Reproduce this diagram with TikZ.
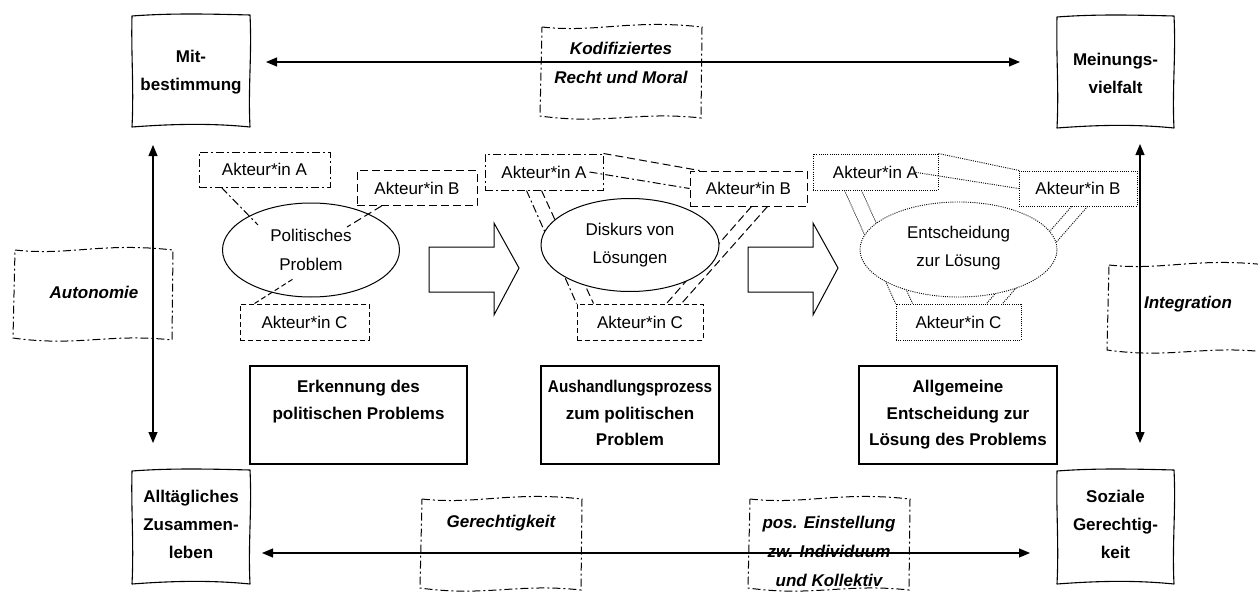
\documentclass[tikz,border=0pt]{standalone}
\usepackage{fontspec}
\setmainfont{Liberation Sans}
\usetikzlibrary{arrows.meta,shapes.geometric,calc}
\newcommand\skbox[4]{%
 \draw[skline] (#1,#2+1) .. controls (#1+40,#2-2) and (#3-40,#2-1) .. (#3,#2)
   .. controls (#3+2,#2+40) and (#3-2,#4-40) .. (#3,#4)
   .. controls (#3-40,#4-4) and (#1+40,#4-3) .. (#1,#4)
   .. controls (#1+2,#4-40) and (#1-1,#2+40) .. cycle;}
\newcommand\wvbox[4]{%
 \draw[wvline] (#1+2,#2+2) .. controls (#1+0.35*#3-0.35*#1,#2+8) and (#1+0.55*#3-0.55*#1,#2-6) .. (#3,#2+2)
  -- (#3-1,#4)
  .. controls (#1+0.6*#3-0.6*#1,#4-7) and (#1+0.4*#3-0.4*#1,#4+7) .. (#1,#4-2) -- cycle;}
\tikzset{
 tx/.style={font=\fontsize{17}{28.5}\selectfont, align=center},
 bt/.style={font=\bfseries\fontsize{17}{28}\selectfont, align=center},
 dt/.style={font=\bfseries\fontsize{17}{26.5}\selectfont, align=center},
 it/.style={font=\bfseries\itshape\fontsize{17}{29}\selectfont, align=center},
 skline/.style={line width=1.1pt, line join=round},
 wvline/.style={line width=1pt, dash pattern=on 8pt off 3pt on 2pt off 3pt},
 dA/.style={line width=1pt, dash pattern=on 8pt off 3pt on 2pt off 3pt},
 dB/.style={line width=1pt, dash pattern=on 8pt off 4pt},
 dC/.style={line width=1pt, dash pattern=on 5pt off 3pt},
 dD/.style={line width=0.9pt, dash pattern=on 1pt off 1.2pt},
 actor/.style={tx, draw, inner sep=0pt, minimum width=#1, minimum height=35},
 blob/.style={tx, ellipse, draw, fill=white, inner sep=0pt, line width=1pt},
 desc/.style={draw, line width=1.2pt, inner sep=0pt},
 dbl/.style={line width=1.1pt, {Triangle[length=11pt,width=9pt]}-{Triangle[length=11pt,width=9pt]}},
 blk/.style={line width=1pt, line join=miter},
}
\begin{document}
\begin{tikzpicture}[x=1pt,y=-1pt]
\useasboundingbox (0,0) rectangle (1258,594);
% corner boxes
\skbox{132}{15}{250}{127}
\node[bt] (mit) at (191,72) {Mit-\\bestimmung};
\skbox{1057}{16}{1174}{128}
\node[bt] (mei) at (1115.5,73) {Meinungs-\\vielfalt};
\skbox{132}{470}{250}{584}
\node[bt] (all) at (191,524) {Alltägliches\\Zusammen-\\leben};
\skbox{1057}{470}{1174}{584}
\node[bt] (soz) at (1115.5,524) {Soziale\\Gerechtig-\\keit};
% value boxes
\wvbox{540}{25}{702}{118}
\node[it] (kod) at (621,62.5) {Kodifiziertes\\Recht und Moral};
\wvbox{13}{248}{173}{340}
\node[it] (aut) at (94,292) {Autonomie};
\wvbox{1107}{263}{1267}{352}
\node[it] (int) at (1188,304) {Integration};
\wvbox{420}{497}{582}{590}
\node[it] (ger) at (501,523) {Gerechtigkeit};
\wvbox{748}{497}{910}{590}
\node[it] (pos) at (829,551) {pos. Einstellung\\zw. Individuum\\und Kollektiv};
% main arrows
\coordinate (t1) at (266,62); \coordinate (t2) at (1020,62);
\draw[dbl] (t1) -- (t2);
\coordinate (b1) at (262,553); \coordinate (b2) at (1030,553);
\draw[dbl] (b1) -- (b2);
\coordinate (l1) at (153,145); \coordinate (l2) at (153,443);
\draw[dbl] (l1) -- (l2);
\coordinate (r1) at (1140,144); \coordinate (r2) at (1140,443);
\draw[dbl] (r1) -- (r2);
% stage 1
\node[actor=131, dA] (a1) at (264.5,169.5) {Akteur*in A};
\node[actor=120, dB] (bb1) at (417,188) {Akteur*in B};
\node[actor=129, dC, minimum height=36] (c1) at (304.5,322) {Akteur*in C};
\node[blob, minimum width=177, minimum height=94] (e1) at (311,250) {Politisches\\Problem};
\draw[dA] ($(a1.south west)+(23,0)$) -- ($(e1.center)+(-53,-25)$);
\draw[dB] ($(bb1.south west)+(25,0)$) -- ($(e1.center)+(36,-23)$);
\draw[dC] ($(c1.north west)+(15,0)$) -- ($(e1.center)+(-18,29)$);
% stage 2
\node[actor=118, dA, minimum height=36] (a2) at (544,172) {Akteur*in A};
\node[actor=117, dB] (bb2) at (748.5,188.5) {Akteur*in B};
\node[actor=126, dC, minimum height=36] (c2) at (640,322) {Akteur*in C};
\draw[dB] (a2.north east) -- ($(bb2.north west)+(10,0)$);
\draw[dA] ($(a2.east)+(-14,0)$) -- (bb2.west);
\draw[dA] ($(a2.south west)+(42,0)$) -- (c2.north west);
\draw[dB] ($(a2.south west)+(57,0)$) -- ($(c2.north west)+(17,0)$);
\draw[dB] ($(bb2.south west)+(62,0)$) -- ($(c2.north west)+(90,0)$);
\draw[dB] ($(bb2.south west)+(78,0)$) -- ($(c2.north west)+(105,0)$);
\node[blob, minimum width=178, minimum height=93] (e2) at (630,245) {Diskurs von\\Lösungen};
% stage 3
\node[actor=125, dD, minimum height=36] (a3) at (875.5,172) {Akteur*in A};
\node[actor=118, dD] (bb3) at (1078,188.5) {Akteur*in B};
\node[actor=125, dD, minimum height=36] (c3) at (958.5,322) {Akteur*in C};
\draw[dD] (a3.north east) -- ($(bb3.north west)+(1,0)$);
\draw[dD] ($(a3.east)+(-25,0)$) -- (bb3.west);
\draw[dD] ($(a3.south west)+(32,0)$) -- (c3.north west);
\draw[dD] ($(a3.south west)+(49,0)$) -- ($(c3.north west)+(17,0)$);
\draw[dD] ($(bb3.south west)+(53,0)$) -- ($(c3.north west)+(91,0)$);
\draw[dD] ($(bb3.south west)+(69,0)$) -- ($(c3.north west)+(107,0)$);
\node[blob, dD, minimum width=197, minimum height=95, text depth=6pt] (e3) at (958.5,249.5) {Entscheidung\\zur Lösung};
% block arrows
\draw[blk] (429,247) -- (494,247) -- (494,223) -- (519,268) -- (494,315) -- (494,292) -- (429,292) -- cycle;
\draw[blk] (748,247) -- (813,247) -- (813,223) -- (838,268) -- (813,315) -- (813,292) -- (748,292) -- cycle;
% description boxes
\node[desc, minimum width=217, minimum height=98] (d1) at (358.5,415) {};
\node[dt, anchor=north] (d1t) at (358.5,377) {Erkennung des\\politischen Problems};
\node[desc, minimum width=178, minimum height=98] (d2) at (630,415) {};
\node[dt, anchor=north] (d2t) at (630,377) {\scalebox{0.9}[1]{Aushandlungsprozess}\\zum politischen\\Problem};
\node[desc, minimum width=198, minimum height=98] (d3) at (958,415) {};
\node[dt, anchor=north] (d3t) at (958,377) {Allgemeine\\Entscheidung zur\\Lösung des Problems};
\end{tikzpicture}
\end{document}
